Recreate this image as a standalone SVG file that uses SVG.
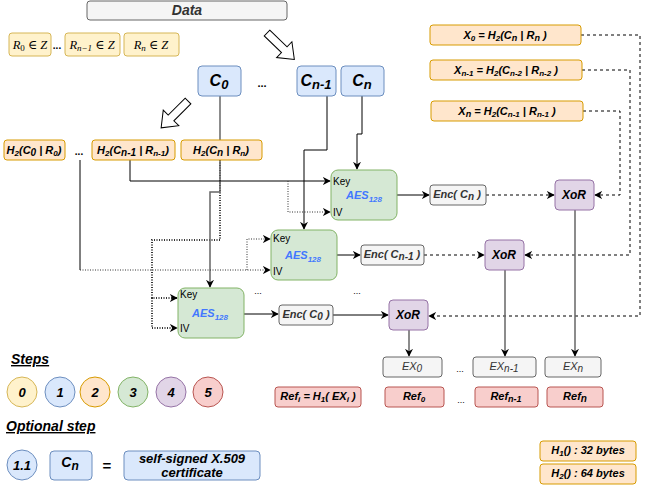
<svg xmlns="http://www.w3.org/2000/svg" width="648" height="486" viewBox="0 0 648 486">
<defs>
<marker id="ar" viewBox="0 0 10 10" refX="9" refY="5" markerWidth="8" markerHeight="8" markerUnits="userSpaceOnUse" orient="auto">
<path d="M0,0 L10,5 L0,10 L3,5 Z" fill="#000"/>
</marker>
</defs>
<style>
text{font-family:"Liberation Sans",Arial,sans-serif;}
.bi{font-weight:bold;font-style:italic;}
.grey{fill:#f5f5f5;stroke:#666;}
.yel{fill:#fff2cc;stroke:#d6b656;}
.org{fill:#ffe6cc;stroke:#d79b00;}
.blu{fill:#dae8fc;stroke:#6c8ebf;}
.grn{fill:#d5e8d4;stroke:#82b366;}
.pur{fill:#e1d5e7;stroke:#9673a6;}
.red{fill:#f8cecc;stroke:#b85450;}
.ln{fill:none;stroke:#000;stroke-width:1;}
.gl{fill:none;stroke:#666;stroke-width:1.5;}
.dash{fill:none;stroke:#000;stroke-dasharray:3,3;}
.dot{fill:none;stroke:#333;stroke-dasharray:1,1.5;}
.m{font-family:"Liberation Serif","DejaVu Serif",serif;font-style:italic;font-size:12.5px;}
.key{font-size:10px;}
.aes{fill:#4277ff;font-size:11px;}
</style>
<rect width="648" height="486" fill="#fff"/>

<g id="data"><rect x="87" y="1" width="200" height="19" rx="3" class="grey"/><text x="187" y="15" text-anchor="middle" class="bi" font-size="14" fill="#333">Data</text></g>

<g id="r0"><rect x="9" y="33" width="42" height="23" rx="3" class="yel"/><text x="30" y="49" text-anchor="middle" class="m">R<tspan font-size="9" dy="2" font-style="normal">0</tspan><tspan dy="-2"> ∈ Z</tspan></text></g>
<text x="57" y="49" text-anchor="middle" font-size="10" font-weight="bold">...</text>
<g id="rn1"><rect x="65" y="33" width="55" height="23" rx="3" class="yel"/><text x="92" y="49" text-anchor="middle" class="m">R<tspan font-size="9" dy="2">n−1</tspan><tspan dy="-2"> ∈ Z</tspan></text></g>
<g id="rn"><rect x="124" y="33" width="55" height="23" rx="3" class="yel"/><text x="151" y="49" text-anchor="middle" class="m">R<tspan font-size="9" dy="2">n</tspan><tspan dy="-2"> ∈ Z</tspan></text></g>

<g id="harrow1"><polygon transform="translate(267,33) rotate(44)" points="0,-4 24,-4 24,-11 38,0 24,11 24,4 0,4" fill="#fff" stroke="#000" stroke-width="1"/></g>
<g id="harrow2"><polygon transform="translate(188,101) rotate(135)" points="0,-4 24,-4 24,-11 38,0 24,11 24,4 0,4" fill="#fff" stroke="#000" stroke-width="1"/></g>

<g id="connectors">
<polyline class="gl" points="220,96 220,140"/>
<polyline class="dot" stroke-width="2" points="220,160 220,240 152,240 152,298 177,298" marker-end="url(#ar)"/>
<polyline class="dot" stroke-width="2" points="152,298 152,328 177,328" marker-end="url(#ar)"/>
<polyline class="gl" points="220,160 220,192 210,192 210,287" marker-end="url(#ar)"/>
<polyline class="ln" points="130,160 130,181 330,181" marker-end="url(#ar)"/>
<polyline class="dot" points="288,181 288,212 330,212" marker-end="url(#ar)"/>
<polyline class="ln" stroke-width="1.5" points="80,160 80,270"/>
<polyline class="dot" points="80,270 270,270" marker-end="url(#ar)"/>
<polyline class="dot" points="247,270 247,239 270,239" marker-end="url(#ar)"/>
<polyline class="ln" points="327,96 327,150 304,150 304,229" marker-end="url(#ar)"/>
<polyline class="ln" points="362,96 362,134 357,134 357,169" marker-end="url(#ar)"/>
<polyline class="ln" points="397,195 429,195" marker-end="url(#ar)"/>
<polyline class="dash" points="486,195 554,195" marker-end="url(#ar)"/>
<polyline class="ln" points="337,255 360,255" marker-end="url(#ar)"/>
<polyline class="dash" points="424,255 484,255" marker-end="url(#ar)"/>
<polyline class="ln" points="244,314 278,314" marker-end="url(#ar)"/>
<polyline class="ln" points="333,315 388,315" marker-end="url(#ar)"/>
<polyline class="dash" points="583,111 620,111 620,195 595,195" marker-end="url(#ar)"/>
<polyline class="dash" points="582,70 630,70 630,255 525,255" marker-end="url(#ar)"/>
<polyline class="dash" points="581,35 640,35 640,316 429,316" marker-end="url(#ar)"/>
<polyline class="gl" points="409,330 409,356" marker-end="url(#ar)"/>
<polyline class="gl" points="505,270 505,356" marker-end="url(#ar)"/>
<polyline class="gl" points="575,210 575,356" marker-end="url(#ar)"/>
</g>

<g id="c0"><rect x="198" y="66" width="43" height="30" rx="4" class="blu"/><text x="219" y="86" text-anchor="middle" class="bi" font-size="16">C<tspan font-size="13" dy="3">0</tspan></text></g>
<text x="262" y="87" text-anchor="middle" font-size="11" font-weight="bold">...</text>
<g id="cn1"><rect x="297" y="66" width="39" height="30" rx="4" class="blu"/><text x="316" y="86" text-anchor="middle" class="bi" font-size="16">C<tspan font-size="13" dy="3">n-1</tspan></text></g>
<g id="cn"><rect x="341" y="66" width="43" height="30" rx="4" class="blu"/><text x="362" y="86" text-anchor="middle" class="bi" font-size="16">C<tspan font-size="13" dy="3">n</tspan></text></g>

<g id="h0"><rect x="4" y="140" width="61" height="20" rx="3" class="org"/><text x="34" y="154" text-anchor="middle" class="bi" font-size="11">H<tspan font-size="8" dy="2">2</tspan><tspan dy="-2">(C</tspan><tspan font-size="10" dy="2">0</tspan><tspan dy="-2"> | R</tspan><tspan font-size="8" dy="2">0</tspan><tspan dy="-2">)</tspan></text></g>
<text x="79" y="155" text-anchor="middle" font-size="10" font-weight="bold">...</text>
<g id="hn1"><rect x="92" y="140" width="83" height="20" rx="3" class="org"/><text x="133" y="154" text-anchor="middle" class="bi" font-size="11">H<tspan font-size="8" dy="2">2</tspan><tspan dy="-2">(C</tspan><tspan font-size="10" dy="2">n-1</tspan><tspan dy="-2"> | R</tspan><tspan font-size="8" dy="2">n-1</tspan><tspan dy="-2">)</tspan></text></g>
<g id="hn"><rect x="181" y="140" width="81" height="20" rx="3" class="org"/><text x="221" y="154" text-anchor="middle" class="bi" font-size="11">H<tspan font-size="8" dy="2">2</tspan><tspan dy="-2">(C</tspan><tspan font-size="10" dy="2">n</tspan><tspan dy="-2"> | R</tspan><tspan font-size="8" dy="2">n</tspan><tspan dy="-2">)</tspan></text></g>

<g id="x0"><rect x="430" y="25" width="151" height="20" rx="3" class="org"/><text x="505" y="39" text-anchor="middle" class="bi" font-size="11">X<tspan font-size="8" dy="2">0</tspan><tspan dy="-2"> = H</tspan><tspan font-size="8" dy="2">2</tspan><tspan dy="-2">(C</tspan><tspan font-size="9" dy="2">n</tspan><tspan dy="-2"> | R</tspan><tspan font-size="9" dy="2">n</tspan><tspan dy="-2"> )</tspan></text></g>
<g id="xn1"><rect x="430" y="60" width="152" height="20" rx="3" class="org"/><text x="506" y="74" text-anchor="middle" class="bi" font-size="11">X<tspan font-size="8" dy="2">n-1</tspan><tspan dy="-2"> = H</tspan><tspan font-size="8" dy="2">2</tspan><tspan dy="-2">(C</tspan><tspan font-size="8" dy="2">n-2</tspan><tspan dy="-2"> | R</tspan><tspan font-size="8" dy="2">n-2</tspan><tspan dy="-2"> )</tspan></text></g>
<g id="xn"><rect x="431" y="101" width="152" height="20" rx="3" class="org"/><text x="507" y="115" text-anchor="middle" class="bi" font-size="11">X<tspan font-size="9" dy="2">n</tspan><tspan dy="-2"> = H</tspan><tspan font-size="8" dy="2">2</tspan><tspan dy="-2">(C</tspan><tspan font-size="8" dy="2">n-1</tspan><tspan dy="-2"> | R</tspan><tspan font-size="8" dy="2">n-1</tspan><tspan dy="-2"> )</tspan></text></g>

<g id="aesn"><rect x="331" y="170" width="66" height="50" rx="7" class="grn"/><text x="333" y="185" class="key">Key</text><text x="333" y="216" class="key">IV</text><text x="364" y="199" text-anchor="middle" class="bi aes">AES<tspan font-size="8" dy="3">128</tspan></text></g>
<g id="aesn1"><rect x="271" y="230" width="66" height="50" rx="7" class="grn"/><text x="273" y="242" class="key">Key</text><text x="273" y="275" class="key">IV</text><text x="303" y="259" text-anchor="middle" class="bi aes">AES<tspan font-size="8" dy="3">128</tspan></text></g>
<g id="aes0"><rect x="178" y="288" width="66" height="50" rx="7" class="grn"/><text x="180" y="298" class="key">Key</text><text x="180" y="332" class="key">IV</text><text x="210" y="317" text-anchor="middle" class="bi aes">AES<tspan font-size="8" dy="3">128</tspan></text></g>
<text x="258" y="294" text-anchor="middle" font-size="9">...</text>
<text x="357" y="294" text-anchor="middle" font-size="9">...</text>

<g id="encn"><rect x="430" y="185" width="56" height="20" rx="3" class="grey"/><text x="457" y="198" text-anchor="middle" class="bi" font-size="11" fill="#333">Enc( C<tspan font-size="10" dy="2">n</tspan><tspan dy="-2"> )</tspan></text></g>
<g id="encn1"><rect x="361" y="245" width="63" height="20" rx="3" class="grey"/><text x="392" y="258" text-anchor="middle" class="bi" font-size="11" fill="#333">Enc( C<tspan font-size="10" dy="2">n-1</tspan><tspan dy="-2"> )</tspan></text></g>
<g id="enc0"><rect x="279" y="305" width="54" height="20" rx="3" class="grey"/><text x="306" y="318" text-anchor="middle" class="bi" font-size="11" fill="#333">Enc( C<tspan font-size="10" dy="2">0</tspan><tspan dy="-2"> )</tspan></text></g>

<g id="xorn"><rect x="555" y="180" width="39" height="30" rx="4" class="pur"/><text x="574" y="199" text-anchor="middle" class="bi" font-size="12">XoR</text></g>
<g id="xorn1"><rect x="485" y="240" width="39" height="30" rx="4" class="pur"/><text x="504" y="259" text-anchor="middle" class="bi" font-size="12">XoR</text></g>
<g id="xor0"><rect x="389" y="300" width="39" height="30" rx="4" class="pur"/><text x="408" y="319" text-anchor="middle" class="bi" font-size="12">XoR</text></g>

<g id="ex0"><rect x="383" y="357" width="59" height="20" rx="3" class="grey"/><text x="412" y="370" text-anchor="middle" font-style="italic" font-size="11" fill="#333">EX<tspan font-size="10" dy="2">0</tspan></text></g>
<text x="460" y="372" text-anchor="middle" font-size="9">...</text>
<g id="exn1"><rect x="473" y="357" width="63" height="20" rx="3" class="grey"/><text x="504" y="370" text-anchor="middle" font-style="italic" font-size="11" fill="#333">EX<tspan font-size="10" dy="2">n-1</tspan></text></g>
<g id="exn"><rect x="545" y="357" width="56" height="20" rx="3" class="grey"/><text x="573" y="370" text-anchor="middle" font-style="italic" font-size="11" fill="#333">EX<tspan font-size="10" dy="2">n</tspan></text></g>

<g id="refi"><rect x="275" y="387" width="86" height="20" rx="3" class="red"/><text x="318" y="400" text-anchor="middle" class="bi" font-size="11">Ref<tspan font-size="8" dy="2">i</tspan><tspan dy="-2"> = H</tspan><tspan font-size="8" dy="2">1</tspan><tspan dy="-2">( EX</tspan><tspan font-size="8" dy="2">i</tspan><tspan dy="-2"> )</tspan></text></g>
<g id="ref0"><rect x="385" y="387" width="59" height="20" rx="3" class="red"/><text x="414" y="400" text-anchor="middle" class="bi" font-size="11">Ref<tspan font-size="8" dy="2">0</tspan></text></g>
<text x="461" y="403" text-anchor="middle" font-size="9">...</text>
<g id="refn1"><rect x="475" y="387" width="63" height="20" rx="3" class="red"/><text x="506" y="400" text-anchor="middle" class="bi" font-size="11">Ref<tspan font-size="9" dy="2">n-1</tspan></text></g>
<g id="refn"><rect x="547" y="387" width="56" height="20" rx="3" class="red"/><text x="575" y="400" text-anchor="middle" class="bi" font-size="11">Ref<tspan font-size="10" dy="2">n</tspan></text></g>

<g id="steps-title"><text x="11" y="364" class="bi" font-size="14" text-decoration="underline">Steps</text></g>
<g id="s0"><circle cx="22" cy="392" r="15" class="yel"/><text x="22" y="397" text-anchor="middle" class="bi" font-size="13">0</text></g>
<g id="s1"><circle cx="60" cy="392" r="15" class="blu"/><text x="60" y="397" text-anchor="middle" class="bi" font-size="13">1</text></g>
<g id="s2"><circle cx="95" cy="392" r="15" class="org"/><text x="95" y="397" text-anchor="middle" class="bi" font-size="13">2</text></g>
<g id="s3"><circle cx="133" cy="392" r="15" class="grn"/><text x="133" y="397" text-anchor="middle" class="bi" font-size="13">3</text></g>
<g id="s4"><circle cx="171" cy="392" r="15" class="pur"/><text x="171" y="397" text-anchor="middle" class="bi" font-size="13">4</text></g>
<g id="s5"><circle cx="208" cy="392" r="15" class="red"/><text x="208" y="397" text-anchor="middle" class="bi" font-size="13">5</text></g>

<g id="opt-title"><text x="6" y="431" class="bi" font-size="14" text-decoration="underline">Optional step</text></g>
<g id="s11"><circle cx="22" cy="465" r="15" class="blu"/><text x="22" y="470" text-anchor="middle" class="bi" font-size="13">1.1</text></g>
<g id="cnopt"><rect x="50" y="451" width="42" height="29" rx="4" class="blu"/><text x="70" y="467" text-anchor="middle" class="bi" font-size="14">C<tspan font-size="12" dy="3">n</tspan></text></g>
<text x="107" y="471" text-anchor="middle" font-weight="bold" font-size="15">=</text>
<g id="cert"><rect x="124" y="451" width="136" height="29" rx="4" class="blu"/><text x="192" y="463" text-anchor="middle" class="bi" font-size="13">self-signed X.509</text><text x="192" y="477" text-anchor="middle" class="bi" font-size="13">certificate</text></g>

<g id="h1size"><rect x="540" y="441" width="96" height="20" rx="3" class="org"/><text x="588" y="454" text-anchor="middle" class="bi" font-size="11">H<tspan font-size="8" dy="2">1</tspan><tspan dy="-2">() : 32 bytes</tspan></text></g>
<g id="h2size"><rect x="540" y="464" width="96" height="20" rx="3" class="org"/><text x="588" y="477" text-anchor="middle" class="bi" font-size="11">H<tspan font-size="8" dy="2">2</tspan><tspan dy="-2">() : 64 bytes</tspan></text></g>
</svg>
